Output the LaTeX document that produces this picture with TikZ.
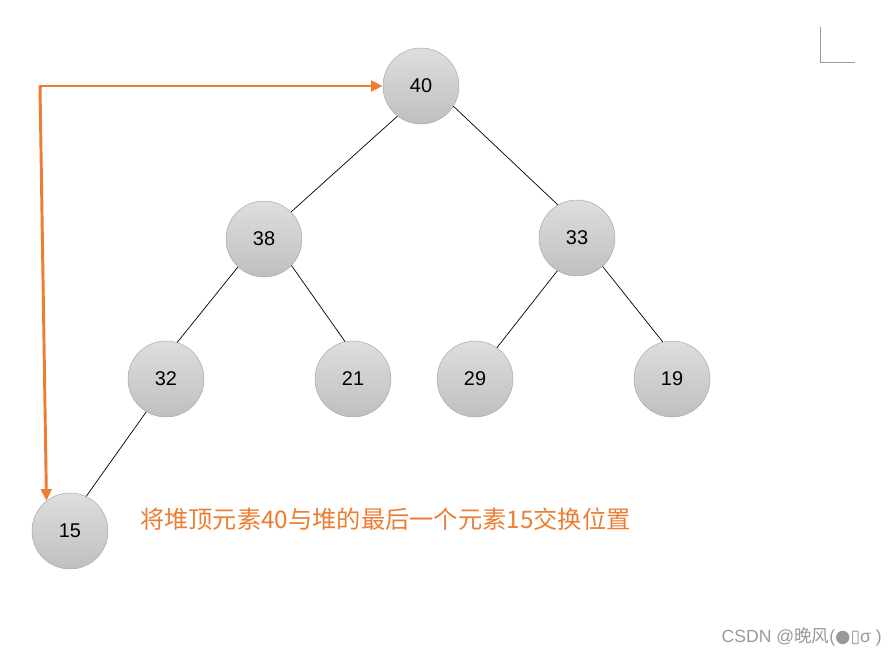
\documentclass[tikz,border=0pt]{standalone}
\usepackage{fontspec}
\setmainfont{Liberation Sans}
\newfontfamily\cjkfont{Noto Sans CJK SC}
\newfontfamily\symfont{DejaVu Sans}
\usetikzlibrary{arrows.meta}
\definecolor{swaporange}{HTML}{ED7D31}
\tikzset{
  heapnode/.style={circle, minimum size=76*0.03cm, inner sep=0pt, draw=black!35,
    top color=black!13, bottom color=black!25, font=\fontsize{17}{19}\selectfont},
  heapedge/.style={draw=black, line width=0.6pt},
  swaparrow/.style={draw=swaporange, line width=2.5pt, -{Triangle[length=10pt,width=9pt]}}
}

\begin{document}
\begin{tikzpicture}[x=0.03cm, y=-0.03cm]
 \useasboundingbox (0,0) rectangle (896,658);

 % heap
 \node[heapnode] (n40) at (421,86)  {40};
 \node[heapnode] (n38) at (264,239) {38};
 \node[heapnode] (n33) at (577,238) {33};
 \node[heapnode] (n32) at (166,379) {32};
 \node[heapnode] (n21) at (353,379) {21};
 \node[heapnode] (n29) at (475,379) {29};
 \node[heapnode] (n19) at (672,379) {19};
 \node[heapnode] (n15) at (70,531)  {15};

 \draw[heapedge] (n40.232) -- (n38.45);
 \draw[heapedge] (n40.328) -- (n33.120);
 \draw[heapedge] (n38.227) -- (n32.73);
 \draw[heapedge] (n38.316) -- (n21.102);
 \draw[heapedge] (n33.239) -- (n29.55);
 \draw[heapedge] (n33.312) -- (n19.104);
 \draw[heapedge] (n32.239) -- (n15.65);

 % swap of top and last element
 \coordinate (turn) at (40,86);
 \draw[swaparrow] (turn) -- (n40.west);
 \draw[swaparrow] (turn) -- (n15.128);
 \fill[swaporange] (38.5,84.5) rectangle (42,88);
 \node[anchor=west, text=swaporange, font=\cjkfont\fontsize{20.7}{22}\selectfont] (note) at (136,519)
   {将堆顶元素40与堆的最后一个元素15交换位置};

 % page corner mark
 \draw[black!40, line width=0.8pt] (820,27) -- (820,62) -- (855,62);

 % watermark
 \node[anchor=east, text=black!40, font=\fontsize{15}{17}\selectfont, inner sep=0pt] (mark) at (882,637)
   {CSDN @{\cjkfont 晚风}({\symfont ●▯}σ )};

\end{tikzpicture}
\end{document}
